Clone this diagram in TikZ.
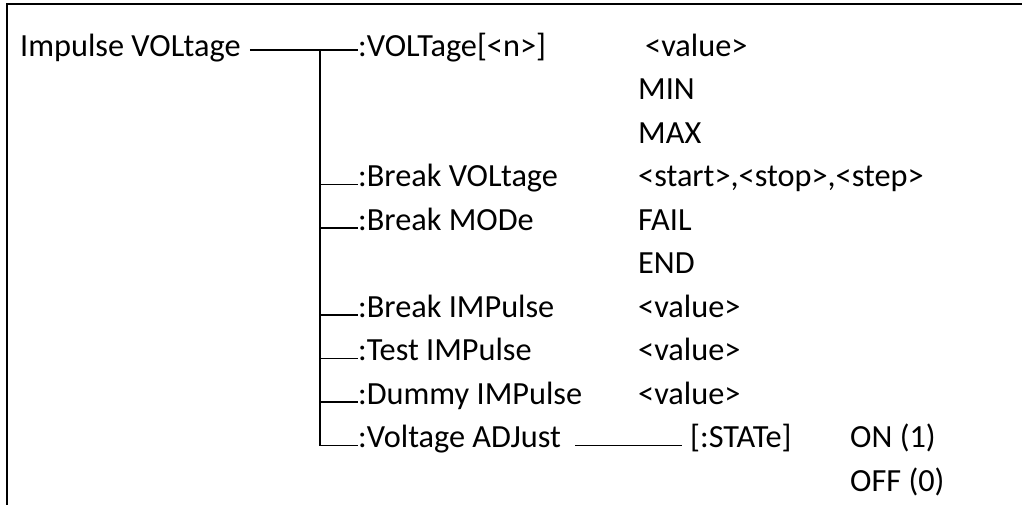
\documentclass[tikz,border=0pt]{standalone}
\usepackage{fontspec}
\setmainfont{Carlito}
\begin{document}
\begin{tikzpicture}[x=1pt,y=-1pt,
  lbl/.style={anchor=base west,inner sep=0pt,text height=0.7em,text depth=0.3em,font=\fontsize{32.3}{38}\selectfont},
  conn/.style={line width=1.4pt},
  frame/.style={line width=2pt}]
\useasboundingbox (0,0) rectangle (1022,504);
\fill[white] (0,0) rectangle (1022,504);
\begin{scope}
\clip (0,0) rectangle (1022,504);
\draw[frame] (7,4) rectangle (1040,530);
\end{scope}
% rows: baseline = 56 + 43.5 k
\node[lbl] (imp) at (20,56) {Impulse VOLtage};
\node[lbl] (vol) at (358,56) {:VOLTage[<n>]};
\node[lbl] (val1) at (645,56) {<value>};
\node[lbl] (min) at (638,99.5) {MIN};
\node[lbl] (max) at (638,143) {MAX};
\node[lbl] (bv) at (358,186.5) {:Break VOLtage};
\node[lbl] (sss) at (638,186.5) {<start>,<stop>,<step>};
\node[lbl] (bm) at (358,230) {:Break MODe};
\node[lbl] (fail) at (638,230) {FAIL};
\node[lbl] (end) at (638,273.5) {END};
\node[lbl] (bi) at (358,317) {:Break IMPulse};
\node[lbl] (val2) at (638,317) {<value>};
\node[lbl] (ti) at (358,360.5) {:Test IMPulse};
\node[lbl] (val3) at (638,360.5) {<value>};
\node[lbl] (di) at (358,404) {:Dummy IMPulse};
\node[lbl] (val4) at (638,404) {<value>};
\node[lbl] (va) at (358,447.5) {:Voltage ADJust};
\node[lbl] (st) at (690,447.5) {[:STATe]};
\node[lbl] (on) at (850,447.5) {ON (1)};
\node[lbl] (off) at (850,491) {OFF (0)};
% connectors
\coordinate (j) at ([yshift=4pt]vol.west -| 320,0);
\draw[conn] ([xshift=9pt]imp.east |- j) -- (vol.west |- j);
\draw[conn] (j) |- (va.west);
\draw[conn] (j) |- (bv.west);
\draw[conn] (j) |- (bm.west);
\draw[conn] (j) |- (bi.west);
\draw[conn] (j) |- (ti.west);
\draw[conn] (j) |- (di.west);
\draw[conn] ([xshift=14pt]va.east) -- ([xshift=-8pt]st.west);
\end{tikzpicture}
\end{document}
